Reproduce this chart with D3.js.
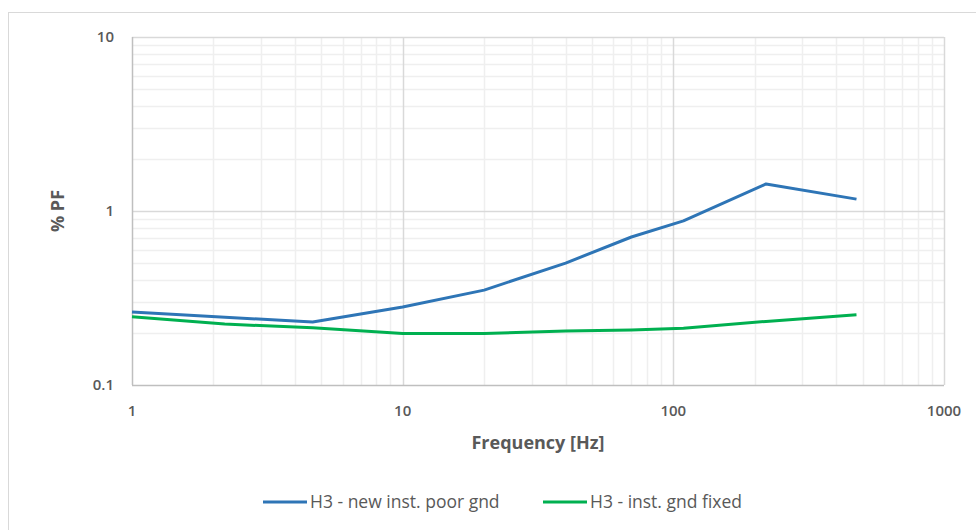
<!DOCTYPE html>
<html>
<head>
<meta charset="utf-8">
<script src="https://cdn.jsdelivr.net/npm/d3@7"></script>
<style>
  body { margin: 0; background: #fff; }
  svg text { font-family: "Liberation Sans Narrow", "Open Sans", sans-serif; fill: #595959; }
</style>
</head>
<body>
<div id="chart"></div>
<script>
const freqPoor = [1, 4.65, 10, 20, 40, 70, 109, 220, 475];
const pfPoor = [0.263, 0.230, 0.281, 0.351, 0.502, 0.709, 0.877, 1.43, 1.17];
const freqFixed = [1, 2.2, 4.65, 10, 20, 40, 70, 109, 220, 475];
const pfFixed = [0.247, 0.224, 0.213, 0.198, 0.198, 0.204, 0.207, 0.212, 0.232, 0.253];
const xTicks = [1, 10, 100, 1000];
const yTicks = [0.1, 1, 10];
const seriesNames = ['H3 - new inst. poor gnd', 'H3 - inst. gnd fixed'];
const seriesColors = ['#2e75b6', '#00b050'];

const width = 976, height = 530;
const plotL = 132, plotR = 944, plotT = 37, plotB = 385;

const svg = d3.select('#chart').append('svg')
    .attr('width', width).attr('height', height);

// chart frame
svg.append('rect')
    .attr('x', 8.5).attr('y', 12.5)
    .attr('width', 990).attr('height', 540)
    .attr('fill', 'none').attr('stroke', '#d9d9d9');

const x = d3.scaleLog().domain([1, 1000]).range([plotL, plotR]);
const y = d3.scaleLog().domain([0.1, 10]).range([plotB, plotT]);

// minor grid
const minorX = [], minorY = [];
[1, 10, 100].forEach(d => { for (let k = 2; k <= 9; k++) minorX.push(d * k); });
[0.1, 1].forEach(d => { for (let k = 2; k <= 9; k++) minorY.push(d * k); });

svg.append('g').selectAll('line').data(minorX).enter().append('line')
    .attr('x1', d => Math.round(x(d)) + 0.5).attr('x2', d => Math.round(x(d)) + 0.5)
    .attr('y1', plotT).attr('y2', plotB)
    .attr('stroke', '#efefef').attr('stroke-width', 1.5);
svg.append('g').selectAll('line').data(minorY).enter().append('line')
    .attr('y1', d => Math.round(y(d)) + 0.5).attr('y2', d => Math.round(y(d)) + 0.5)
    .attr('x1', plotL).attr('x2', plotR)
    .attr('stroke', '#efefef').attr('stroke-width', 1.5);

// major grid
svg.append('g').selectAll('line').data(xTicks.slice(1)).enter().append('line')
    .attr('x1', d => Math.round(x(d)) + 0.5).attr('x2', d => Math.round(x(d)) + 0.5)
    .attr('y1', plotT).attr('y2', plotB)
    .attr('stroke', '#d9d9d9').attr('stroke-width', 1.5);
svg.append('g').selectAll('line').data(yTicks.slice(1)).enter().append('line')
    .attr('y1', d => Math.round(y(d)) + 0.5).attr('y2', d => Math.round(y(d)) + 0.5)
    .attr('x1', plotL).attr('x2', plotR)
    .attr('stroke', '#d9d9d9').attr('stroke-width', 1.5);

// axis lines
svg.append('line').attr('x1', plotL).attr('x2', plotR)
    .attr('y1', plotB + 0.5).attr('y2', plotB + 0.5)
    .attr('stroke', '#bfbfbf').attr('stroke-width', 1.5);
svg.append('line').attr('x1', plotL + 0.5).attr('x2', plotL + 0.5)
    .attr('y1', plotT).attr('y2', plotB)
    .attr('stroke', '#bfbfbf').attr('stroke-width', 1.5);

// tick labels
svg.append('g').selectAll('text').data(xTicks).enter().append('text')
    .attr('x', d => x(d)).attr('y', 416)
    .attr('text-anchor', 'middle')
    .style('font-size', '15px').style('font-weight', 600)
    .text(d => d);
svg.append('g').selectAll('text').data(yTicks).enter().append('text')
    .attr('x', 114).attr('y', d => y(d) + 5)
    .attr('text-anchor', 'end')
    .style('font-size', '15px').style('font-weight', 600)
    .text(d => d);

// axis titles
svg.append('text')
    .attr('x', (plotL + plotR) / 2).attr('y', 449)
    .attr('text-anchor', 'middle')
    .style('font-size', '18px').style('font-weight', 'bold')
    .text('Frequency [Hz]');
svg.append('text')
    .attr('transform', `translate(64,${(plotT + plotB) / 2}) rotate(-90)`)
    .attr('text-anchor', 'middle')
    .style('font-size', '18px').style('font-weight', 'bold')
    .text('% PF');

// lines
const line = d3.line().x(d => x(d[0])).y(d => y(d[1]));
const series = [d3.zip(freqPoor, pfPoor), d3.zip(freqFixed, pfFixed)];
svg.append('g').selectAll('path').data(series).enter().append('path')
    .attr('d', line)
    .attr('fill', 'none')
    .attr('stroke', (d, i) => seriesColors[i])
    .attr('stroke-width', 3)
    .attr('stroke-linejoin', 'round');

// legend
const legendX = [263, 543];
const legend = svg.append('g').selectAll('g').data(seriesNames).enter().append('g')
    .attr('transform', (d, i) => `translate(${legendX[i]},502)`);
legend.append('line')
    .attr('x1', 0).attr('x2', 44).attr('y1', 0).attr('y2', 0)
    .attr('stroke', (d, i) => seriesColors[i]).attr('stroke-width', 3);
legend.append('text')
    .attr('x', 47).attr('y', 6)
    .style('font-size', '17.5px')
    .text(d => d);
</script>
</body>
</html>
